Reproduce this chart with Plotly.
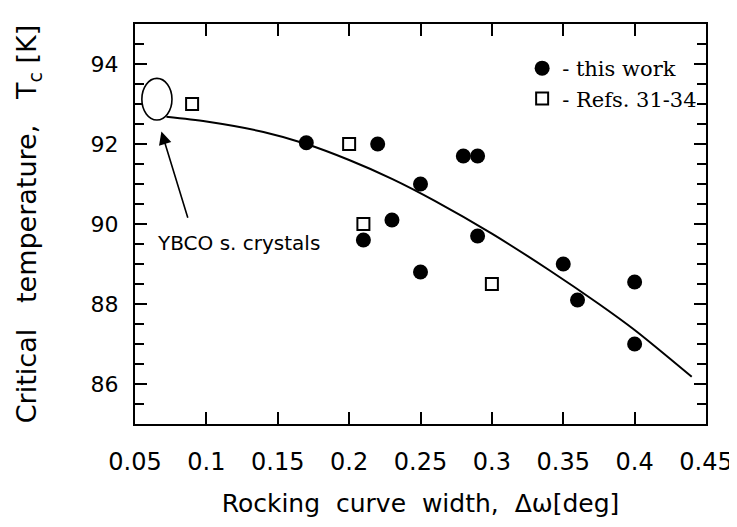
import plotly.graph_objects as go

# ---- data ----
this_work_x = [0.17, 0.22, 0.25, 0.28, 0.29, 0.23, 0.21, 0.29, 0.25, 0.35, 0.36, 0.40, 0.40]
this_work_y = [92.03, 92.0, 91.0, 91.7, 91.7, 90.1, 89.6, 89.7, 88.8, 89.0, 88.1, 88.55, 87.0]

refs_x = [0.09, 0.20, 0.21, 0.30]
refs_y = [93.0, 92.0, 90.0, 88.5]

fit_x = [0.072, 0.10, 0.14, 0.17, 0.20, 0.23, 0.26, 0.30, 0.34, 0.375, 0.40, 0.44]
fit_y = [92.68, 92.56, 92.30, 92.00, 91.60, 91.13, 90.58, 89.76, 88.85, 88.00, 87.35, 86.18]

# YBCO single-crystal region (ellipse bounds) and arrow
ybco_x = [0.0548, 0.0759]
ybco_y = [92.60, 93.64]
arrow_tip = [0.0685, 92.31]
arrow_tail = [0.0873, 90.12]
ybco_label_pos = [0.1224, 89.53]

x_ticks = [0.05, 0.1, 0.15, 0.2, 0.25, 0.3, 0.35, 0.4, 0.45]
x_tick_labels = ["0.05", "0.1", "0.15", "0.2", "0.25", "0.3", "0.35", "0.4", "0.45"]
y_ticks = [86, 88, 90, 92, 94]

SANS = "DejaVu Sans"
SERIF = "DejaVu Serif"

fig = go.Figure()

fig.add_trace(go.Scatter(
    x=fit_x, y=fit_y, mode="lines", line=dict(color="black", width=2, shape="spline", smoothing=0.8),
    showlegend=False, hoverinfo="skip"))

fig.add_trace(go.Scatter(
    x=this_work_x, y=this_work_y, mode="markers", name="- this work",
    marker=dict(symbol="circle", size=15, color="black")))

fig.add_trace(go.Scatter(
    x=refs_x, y=refs_y, mode="markers", name="- Refs. 31-34",
    marker=dict(symbol="square-open", size=12, color="black", line=dict(width=2))))

fig.add_shape(type="circle", xref="x", yref="y",
              x0=ybco_x[0], x1=ybco_x[1], y0=ybco_y[0], y1=ybco_y[1],
              line=dict(color="black", width=1.6), fillcolor="white", layer="above")

fig.add_annotation(x=arrow_tip[0], y=arrow_tip[1], ax=arrow_tail[0], ay=arrow_tail[1],
                   xref="x", yref="y", axref="x", ayref="y", text="",
                   showarrow=True, arrowhead=2, arrowsize=1.6, arrowwidth=1.6,
                   arrowcolor="black")

fig.add_annotation(x=ybco_label_pos[0], y=ybco_label_pos[1], xref="x", yref="y",
                   text="YBCO s. crystals", showarrow=False,
                   font=dict(family=SANS, size=20, color="black"))

fig.update_xaxes(
    range=[0.05, 0.45], tickvals=x_ticks, ticktext=x_tick_labels,
    ticks="inside", ticklen=12, tickwidth=1.5, tickcolor="black",
    showline=True, linewidth=2, linecolor="black", mirror="ticks",
    showgrid=False, zeroline=False, ticklabelstandoff=15,
    tickfont=dict(family=SANS, size=24, color="black"),
    title=dict(text="Rocking\u00a0 curve\u00a0 width,\u00a0 \u0394\u03c9[deg]",
               font=dict(family=SANS, size=25, color="black"), standoff=20),
    automargin=False)

fig.update_yaxes(
    range=[85, 95], tickvals=y_ticks,
    ticks="inside", ticklen=12, tickwidth=1.5, tickcolor="black",
    minor=dict(dtick=0.5, tick0=85, ticks="inside", ticklen=9, tickwidth=1.5, tickcolor="black"),
    showline=True, linewidth=2, linecolor="black", mirror="ticks",
    showgrid=False, zeroline=False, ticklabelstandoff=10,
    tickfont=dict(family=SANS, size=22, color="black"),
    title=dict(text="Critical\u00a0\u00a0 temperature,\u00a0\u00a0 T<sub>c</sub> [K]",
               font=dict(family=SANS, size=27, color="black"), standoff=46),
    automargin=False)

# the page adds an 8px body margin, so the figure is sized to fit the 737x527 window
fig.update_layout(
    width=729, height=519,
    margin=dict(l=127, r=31, t=16, b=103),
    paper_bgcolor="white", plot_bgcolor="white",
    showlegend=True,
    legend=dict(x=0.678, y=0.94, xanchor="left", yanchor="top",
                bgcolor="rgba(0,0,0,0)", borderwidth=0,
                font=dict(family=SERIF, size=21, color="black"),
                itemsizing="trace"),
)

fig.write_html("out.html")
